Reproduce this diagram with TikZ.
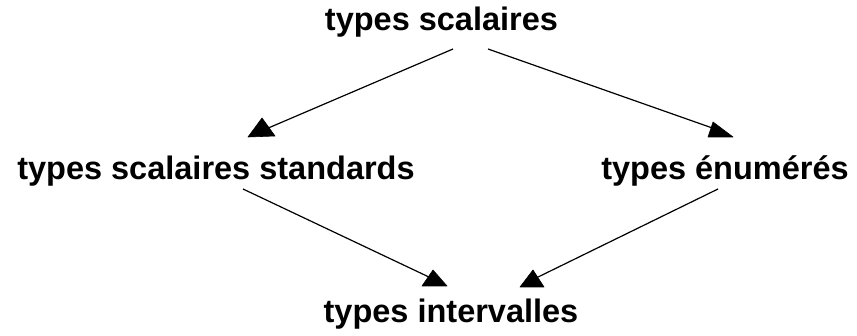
\documentclass[tikz,border=0pt]{standalone}
\usepackage{fontspec}
\setmainfont{Liberation Sans}
\tikzset{
  label/.style={anchor=base, inner sep=0pt, font=\fontsize{32.5}{36}\selectfont\bfseries},
  link/.style={line width=1.2pt, black},
  head/.style={fill=black, draw=black, line width=0.6pt, line join=round},
}
\begin{document}
\begin{tikzpicture}[x=1pt, y=-1pt]
  \useasboundingbox (0,0) rectangle (857,336);
  % type names
  \node[label] (scal) at (441.5,31) {types scalaires};
  \node[label] (std)  at (216,180)  {types scalaires standards};
  \node[label] (enum) at (725,180)  {types énumérés};
  \node[label] (intv) at (451,323)  {types intervalles};
  % connector end points
  \coordinate (s1) at (453,49);
  \coordinate (e1) at (266,129);
  \coordinate (s2) at (488,49);
  \coordinate (e2) at (718,130);
  \coordinate (s3) at (243,189);
  \coordinate (e3) at (431,278);
  \coordinate (s4) at (718,189);
  \coordinate (e4) at (534,279);
  % connectors
  \draw[link] (s1) -- (e1);
  \draw[link] (s2) -- (e2);
  \draw[link] (s3) -- (e3);
  \draw[link] (s4) -- (e4);
  % triangular heads, base kept horizontal
  \fill[head] (262,118) -- (275,136) -- (248,137) -- cycle;
  \fill[head] (713,122) -- (733,137) -- (708,137) -- cycle;
  \fill[head] (433,270) -- (447,286) -- (422,286) -- cycle;
  \fill[head] (533,270) -- (544,287) -- (520,287) -- cycle;
\end{tikzpicture}
\end{document}
